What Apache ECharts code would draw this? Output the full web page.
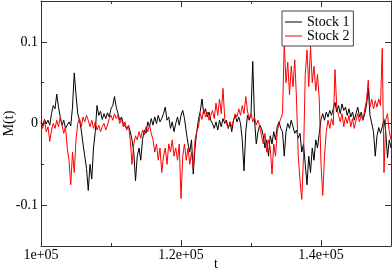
<!DOCTYPE html>
<html><head><meta charset="utf-8">
<script src="https://cdn.jsdelivr.net/npm/echarts@6/dist/echarts.min.js"></script>
<style>html,body{margin:0;padding:0;background:#fff}#c{width:392px;height:273px}</style>
</head><body><div id="c"></div>
<script>
const tStart = 100000;
const tStep = 250;
const xTickLabels = {100000: '1e+05', 120000: '1.2e+05', 140000: '1.4e+05'};
const yTickValues = [-0.1, 0, 0.1];
const yMinorValues = [-0.15, -0.05, 0.05, 0.15];
const xTickValues = [100000, 120000, 140000];
const xMinorValues = [110000, 130000, 150000];
const stock1 = [
0.002,-0.003,0.005,0.000,0.004,-0.002,
0.012,0.022,0.018,0.036,0.020,
0.008,-0.002,0.004,-0.006,-0.002,
0.002,-0.003,0.020,0.062,0.035,
0.012,0.004,-0.008,-0.025,-0.040,-0.055,-0.082,-0.050,-0.068,-0.030,
-0.010,0.022,0.010,0.015,0.005,0.012,0.006,0.013,0.008,0.018,
0.022,0.033,0.020,0.012,0.004,0.008,0.000,-0.002,-0.006,-0.003,
-0.010,-0.020,-0.035,-0.070,-0.040,-0.030,-0.045,-0.020,-0.008,-0.012,
0.002,-0.004,0.006,-0.002,0.008,0.000,0.010,0.002,0.006,0.012,
0.020,0.004,0.008,-0.006,0.002,-0.010,0.000,0.008,-0.002,0.010,
0.016,0.006,-0.010,-0.025,-0.035,-0.020,-0.062,-0.030,-0.010,0.005,
0.015,0.030,0.012,0.018,0.008,0.014,0.004,0.000,-0.006,0.002,
-0.008,0.004,-0.004,0.006,0.000,0.004,-0.006,0.002,-0.010,0.004,
0.010,0.002,0.008,0.000,-0.020,-0.058,-0.010,0.010,0.004,0.012,
0.076,0.005,-0.025,-0.010,-0.002,-0.006,-0.015,-0.030,-0.020,-0.040,
-0.015,-0.025,-0.010,-0.020,-0.004,0.002,-0.006,-0.010,-0.040,-0.010,
0.000,-0.006,0.004,-0.004,-0.012,-0.008,-0.018,-0.012,-0.035,-0.025,
-0.050,-0.075,-0.040,-0.060,-0.030,-0.045,-0.020,-0.030,-0.012,0.005,
0.012,0.004,0.014,0.008,0.016,0.010,0.018,0.026,0.014,0.022,
0.012,0.024,0.016,0.020,0.010,0.018,0.008,0.014,0.004,0.012,
0.020,0.008,0.014,0.004,0.012,0.022,0.043,0.010,0.000,-0.010,
-0.040,-0.015,-0.005,-0.012,-0.004,0.005,-0.010,-0.042,-0.020,-0.030
];
const stock2 = [
0.000,-0.006,0.004,-0.010,-0.004,-0.022,-0.008,0.000,-0.006,0.004,-0.004,
0.008,-0.002,-0.012,-0.004,-0.030,-0.045,-0.075,-0.035,-0.060,-0.020,
0.000,0.006,-0.004,0.008,0.002,0.010,0.004,-0.004,0.004,-0.006,
0.002,-0.008,-0.002,-0.010,-0.004,0.000,-0.008,-0.002,0.006,0.010,
0.004,0.012,0.006,0.010,0.000,0.006,-0.004,0.002,-0.008,-0.002,
-0.020,-0.050,-0.025,-0.015,-0.020,-0.010,-0.018,-0.008,-0.014,-0.004,
-0.010,-0.002,-0.012,-0.020,-0.035,-0.025,-0.045,-0.030,-0.060,-0.040,
-0.030,-0.050,-0.025,-0.035,-0.020,-0.040,-0.030,-0.045,-0.025,-0.092,
-0.040,-0.025,-0.045,-0.030,-0.050,-0.035,-0.055,-0.020,-0.010,-0.004,
0.012,0.005,0.018,0.008,0.014,0.004,0.010,0.016,0.006,0.025,
0.010,0.030,0.012,0.043,0.005,0.000,-0.006,0.002,-0.004,0.004,
0.012,0.008,0.018,0.010,0.022,0.012,0.033,0.015,0.006,0.012,
0.002,0.008,-0.002,0.004,-0.004,-0.015,-0.025,-0.012,-0.035,-0.020,
-0.030,-0.062,-0.025,-0.040,-0.010,0.000,0.006,0.012,0.098,0.050,
0.075,0.035,0.070,0.045,0.078,0.030,-0.040,-0.070,-0.093,-0.040,
0.060,0.090,0.045,0.095,0.050,0.070,0.040,0.060,0.030,-0.050,
-0.088,-0.040,-0.010,0.004,-0.006,0.006,-0.002,0.066,0.020,0.010,
0.002,0.012,-0.004,0.008,0.000,0.010,-0.004,0.006,-0.006,0.004,
0.012,0.002,0.010,0.004,0.018,0.028,0.053,0.020,0.030,0.018,
0.028,0.020,0.030,0.022,0.092,-0.060,0.005,0.012,-0.010,-0.020
];
const toPairs = arr => arr.map((v, i) => [tStart + i * tStep, v]);
const font = 'Liberation Serif';
const lineColor = '#333';
const chart = echarts.init(document.getElementById('c'), null, {renderer: 'canvas'});
function xAx(pos, ticks, len, main) {
  const labelled = main && pos === 'bottom';
  return {
    type: 'value', position: pos, min: 100000, max: 150000,
    name: labelled ? 't' : '', nameLocation: 'middle', nameGap: 11, nameMoveOverlap: false,
    nameTextStyle: {fontFamily: font, fontSize: 14, color: '#000'},
    axisLine: {show: main, onZero: false, lineStyle: {color: lineColor, width: 1}},
    axisTick: {show: true, inside: true, length: len, customValues: ticks, lineStyle: {color: lineColor}},
    axisLabel: {show: labelled, customValues: xTickValues, margin: 2,
      fontFamily: font, fontSize: 14, color: '#000', formatter: v => xTickLabels[v] || ''},
    splitLine: {show: false}
  };
}
function yAx(pos, ticks, len, main) {
  const labelled = main && pos === 'left';
  return {
    type: 'value', position: pos, min: -0.15, max: 0.15,
    name: labelled ? 'M(t)' : '', nameLocation: 'middle', nameGap: 25, nameMoveOverlap: false,
    nameTextStyle: {fontFamily: font, fontSize: 14, color: '#000'},
    axisLine: {show: main, onZero: false, lineStyle: {color: lineColor, width: 1}},
    axisTick: {show: true, inside: true, length: len, customValues: ticks, lineStyle: {color: lineColor}},
    axisLabel: {show: labelled, customValues: yTickValues, margin: 3,
      fontFamily: font, fontSize: 14, color: '#000', formatter: v => String(Math.round(v * 10) / 10)},
    splitLine: {show: false}
  };
}
chart.setOption({
  animation: false,
  backgroundColor: '#fff',
  grid: {left: 41, right: 1, top: 1, bottom: 27, containLabel: false, outerBoundsMode: 'none'},
  legend: {
    orient: 'vertical', left: 282, top: 11, padding: [4, 4, 3, 3],
    borderColor: '#444', borderWidth: 1, backgroundColor: '#fff',
    icon: 'rect', itemWidth: 17, itemHeight: 1, itemGap: 0,
    textStyle: {fontFamily: font, fontSize: 14, color: '#000', lineHeight: 13},
    data: ['Stock 1', 'Stock 2']
  },
  xAxis: [
    xAx('bottom', xTickValues, 6, true),
    xAx('bottom', xMinorValues, 3, false),
    xAx('top', xTickValues, 6, true),
    xAx('top', xMinorValues, 3, false)
  ],
  yAxis: [
    yAx('left', yTickValues, 6, true),
    yAx('left', yMinorValues, 3, false),
    yAx('right', yTickValues, 6, true),
    yAx('right', yMinorValues, 3, false)
  ],
  series: [
    {name: 'Stock 1', type: 'line', data: toPairs(stock1), symbol: 'none', xAxisIndex: 0, yAxisIndex: 0,
     lineStyle: {color: '#000', width: 1}, itemStyle: {color: '#000'}},
    {name: 'Stock 2', type: 'line', data: toPairs(stock2), symbol: 'none', xAxisIndex: 0, yAxisIndex: 0,
     lineStyle: {color: '#ff0000', width: 1}, itemStyle: {color: '#ff0000'}}
  ]
});
</script></body></html>
